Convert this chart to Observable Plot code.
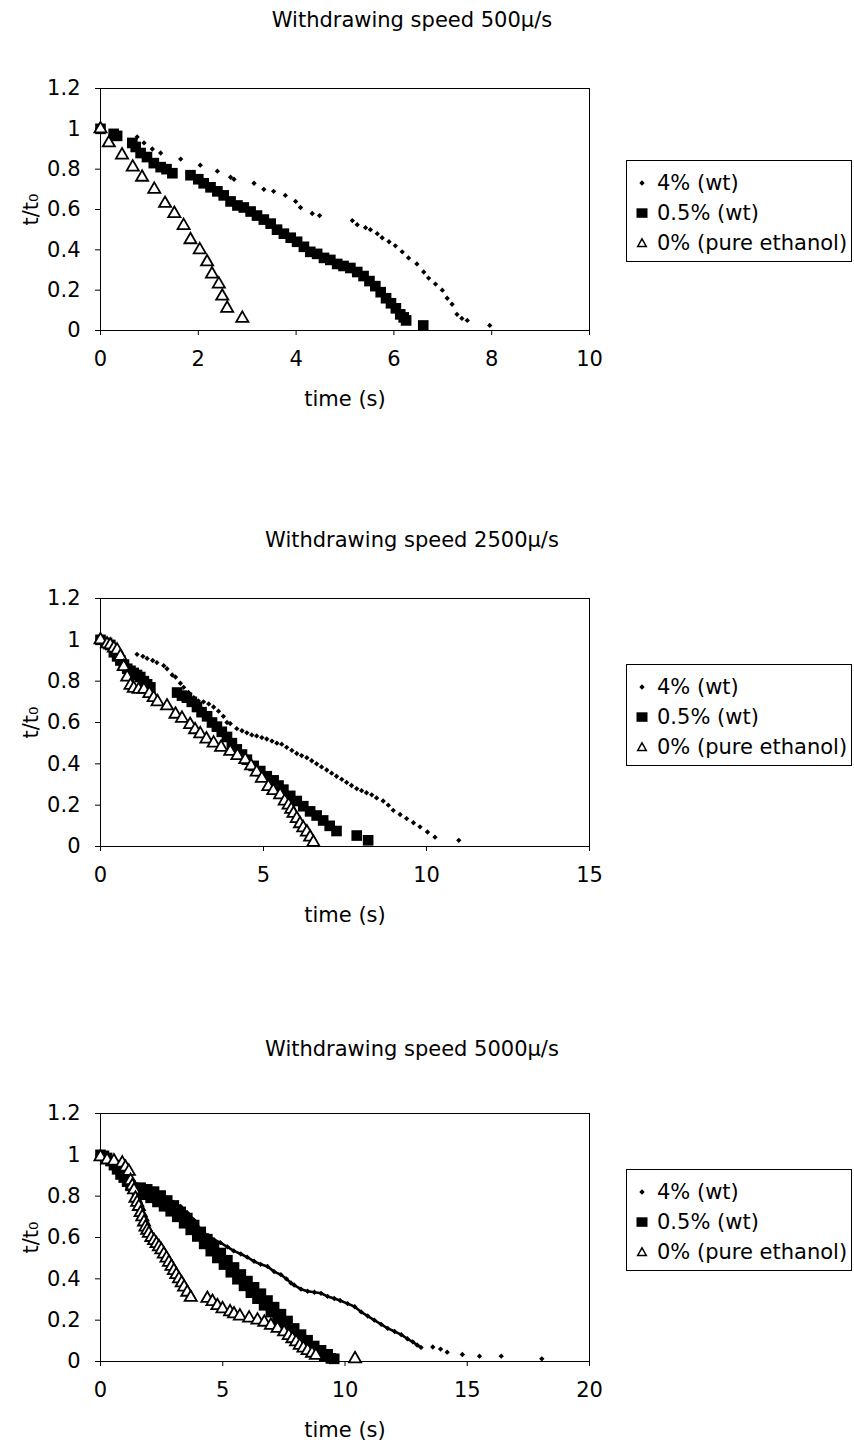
<!DOCTYPE html>
<html><head><meta charset="utf-8">
<script src="https://cdn.jsdelivr.net/npm/d3@7"></script>
<script src="https://cdn.jsdelivr.net/npm/@observablehq/plot@0.6"></script>
<style>
body{margin:0;background:#fff;}
#page{position:relative;width:854px;height:1451px;font-family:"DejaVu Sans",sans-serif;color:#000;background:#fff;}
.title{position:absolute;left:0;width:824px;text-align:center;font-size:21px;line-height:24px;white-space:nowrap;}
.chart{position:absolute;left:0;}
.legend{position:absolute;left:626px;width:226px;border:1px solid #000;box-sizing:border-box;font-size:21px;padding:7px 0 3px 0;background:#fff;}
.legend .row{height:30px;display:flex;align-items:center;white-space:nowrap;}
.legend svg{width:30px;height:30px;flex:none;}
</style></head><body><div id="page"></div>
<script>
// ---------- data ----------
const titles = ["Withdrawing speed 500µ/s", "Withdrawing speed 2500µ/s", "Withdrawing speed 5000µ/s"];
const seriesNames = ["4% (wt)", "0.5% (wt)", "0% (pure ethanol)"];
const yTicks = [0, 0.2, 0.4, 0.6, 0.8, 1, 1.2];
const c1_xTicks = [0, 2, 4, 6, 8, 10];
const c2_xTicks = [0, 5, 10, 15];
const c3_xTicks = [0, 5, 10, 15, 20];

// chart 1 : 500 µ/s
const c1_x4 = [0,0.75,0.89,1.06,1.23,1.64,2.04,2.39,2.66,2.73,3.14,3.34,3.54,3.78,3.99,4.09,4.33,4.48,5.15,5.25,5.42,5.52,5.66,5.76,5.90,6.03,6.17,6.30,6.47,6.61,6.71,6.85,6.99,7.09,7.19,7.29,7.39,7.50,7.96];
const c1_y4 = [1.0,0.96,0.93,0.90,0.88,0.85,0.82,0.79,0.76,0.75,0.73,0.70,0.69,0.67,0.64,0.61,0.58,0.57,0.545,0.525,0.51,0.50,0.48,0.46,0.44,0.42,0.39,0.36,0.33,0.29,0.26,0.23,0.20,0.16,0.13,0.08,0.06,0.05,0.025];
const c1_x05 = [0,0.27,0.34,0.65,0.72,0.82,0.95,1.09,1.23,1.35,1.47,1.84,2.0,2.11,2.25,2.39,2.52,2.66,2.80,2.93,3.07,3.20,3.34,3.48,3.61,3.75,3.89,4.02,4.16,4.29,4.43,4.57,4.70,4.84,4.97,5.11,5.25,5.38,5.50,5.62,5.73,5.84,5.94,6.04,6.13,6.20,6.25,6.60];
const c1_y05 = [1.0,0.975,0.965,0.93,0.91,0.88,0.86,0.83,0.81,0.80,0.78,0.77,0.75,0.73,0.71,0.69,0.67,0.64,0.62,0.61,0.59,0.57,0.55,0.53,0.50,0.48,0.46,0.44,0.415,0.39,0.38,0.36,0.35,0.33,0.32,0.31,0.29,0.27,0.245,0.22,0.19,0.16,0.135,0.11,0.08,0.065,0.05,0.025];
const c1_x0 = [0,0.17,0.44,0.66,0.85,1.10,1.32,1.51,1.70,1.84,2.03,2.18,2.28,2.42,2.49,2.59,2.90];
const c1_y0 = [1.0,0.93,0.87,0.81,0.76,0.70,0.63,0.58,0.52,0.45,0.40,0.34,0.28,0.23,0.17,0.11,0.06];

// chart 2 : 2500 µ/s
const c2_x4 = [0,1.12,1.30,1.43,1.60,1.73,1.94,2.04,2.20,2.30,2.45,2.55,2.70,2.86,3.00,3.16,3.32,3.47,3.62,3.77,3.88,3.98,4.18,4.34,4.49,4.64,4.79,4.95,5.10,5.26,5.41,5.56,5.71,5.87,6.02,6.17,6.33,6.48,6.63,6.78,6.94,7.09,7.24,7.40,7.55,7.70,7.86,8.01,8.16,8.32,8.47,8.67,8.83,8.98,9.19,9.39,9.60,9.80,10.03,10.26,10.99];
const c2_y4 = [1.0,0.93,0.92,0.91,0.90,0.89,0.875,0.86,0.83,0.82,0.79,0.77,0.745,0.72,0.705,0.70,0.69,0.675,0.655,0.63,0.60,0.595,0.57,0.56,0.55,0.54,0.535,0.527,0.52,0.51,0.50,0.495,0.48,0.465,0.45,0.44,0.43,0.415,0.40,0.385,0.37,0.355,0.34,0.325,0.31,0.295,0.28,0.27,0.26,0.25,0.235,0.22,0.20,0.175,0.155,0.135,0.115,0.095,0.07,0.045,0.03];
const c2_x05 = [0,0.20,0.30,0.41,0.51,0.61,0.72,0.82,0.92,1.02,1.12,1.22,1.33,1.43,1.53,2.35,2.50,2.65,2.80,2.96,3.10,3.27,3.42,3.57,3.72,3.88,4.03,4.18,4.34,4.49,4.70,4.90,5.10,5.31,5.46,5.61,5.82,6.02,6.22,6.43,6.63,6.83,7.03,7.24,7.86,8.21];
const c2_y05 = [1.0,0.985,0.975,0.94,0.92,0.90,0.88,0.86,0.85,0.84,0.83,0.82,0.80,0.785,0.77,0.745,0.73,0.72,0.70,0.675,0.65,0.63,0.60,0.58,0.555,0.53,0.50,0.47,0.445,0.42,0.39,0.365,0.34,0.32,0.295,0.275,0.245,0.22,0.195,0.17,0.15,0.126,0.10,0.075,0.053,0.03];
const c2_x0 = [0,0.20,0.30,0.41,0.51,0.61,0.71,0.82,0.92,1.02,1.17,1.33,1.50,1.63,1.75,2.04,2.30,2.50,2.75,2.90,3.06,3.25,3.47,3.70,3.98,4.20,4.44,4.62,4.79,4.95,5.15,5.30,5.51,5.65,5.77,5.85,5.92,6.02,6.12,6.22,6.33,6.43,6.53];
const c2_y0 = [1.0,0.98,0.975,0.96,0.95,0.92,0.87,0.82,0.78,0.765,0.76,0.76,0.74,0.72,0.70,0.68,0.64,0.62,0.59,0.565,0.545,0.52,0.50,0.48,0.46,0.44,0.42,0.39,0.36,0.33,0.29,0.27,0.25,0.22,0.20,0.18,0.16,0.135,0.11,0.09,0.07,0.045,0.02];

// chart 3 : 5000 µ/s
const c3_x4 = [0,0.20,0.50,0.80,1.10,1.37,1.64,1.90,2.19,2.46,2.73,3.00,3.28,3.55,3.82,4.00,4.10,4.24,4.40,4.64,4.90,5.19,5.45,5.74,6.00,6.28,6.55,6.83,7.10,7.38,7.60,7.79,7.92,8.20,8.47,8.75,9.02,9.29,9.56,9.80,10.11,10.40,10.66,10.93,11.20,11.48,11.75,12.03,12.30,12.55,12.77,12.95,13.11,13.59,13.91,14.18,14.80,15.50,16.39,18.05];
const c3_y4 = [1.0,0.985,0.97,0.93,0.88,0.85,0.835,0.83,0.82,0.805,0.79,0.77,0.75,0.72,0.685,0.65,0.625,0.62,0.61,0.59,0.575,0.555,0.535,0.52,0.505,0.485,0.47,0.46,0.435,0.42,0.40,0.38,0.37,0.35,0.34,0.335,0.33,0.315,0.305,0.295,0.28,0.265,0.24,0.22,0.20,0.18,0.16,0.145,0.13,0.11,0.095,0.08,0.068,0.07,0.06,0.045,0.034,0.026,0.026,0.013];
const c3_denseEnd = 13.11;
const c3_x05 = [0,0.14,0.27,0.41,0.55,0.68,0.82,0.95,1.09,1.23,1.37,1.50,1.64,1.78,1.91,2.05,2.19,2.33,2.46,2.60,2.73,2.87,3.00,3.14,3.28,3.42,3.55,3.69,3.83,3.96,4.10,4.24,4.37,4.51,4.64,4.78,4.92,5.05,5.19,5.33,5.46,5.60,5.74,5.87,6.01,6.15,6.28,6.42,6.56,6.69,6.83,6.97,7.10,7.24,7.38,7.51,7.65,7.79,7.92,8.06,8.20,8.33,8.47,8.61,8.74,8.88,9.02,9.15,9.29,9.42,9.56];
const c3_y05 = [1.0,0.995,0.985,0.97,0.95,0.93,0.905,0.89,0.87,0.85,0.84,0.815,0.841,0.807,0.833,0.792,0.822,0.772,0.803,0.751,0.779,0.727,0.755,0.700,0.724,0.669,0.694,0.637,0.660,0.605,0.627,0.569,0.592,0.534,0.558,0.501,0.525,0.469,0.490,0.432,0.455,0.398,0.421,0.366,0.389,0.333,0.359,0.304,0.328,0.272,0.295,0.239,0.263,0.206,0.229,0.174,0.196,0.137,0.160,0.104,0.130,0.077,0.103,0.055,0.075,0.040,0.054,0.028,0.035,0.015,0.013];
const c3_x0 = [0,0.27,0.55,0.89,1.02,1.16,1.23,1.30,1.37,1.43,1.50,1.57,1.64,1.71,1.78,1.84,1.91,1.98,2.08,2.19,2.29,2.39,2.49,2.59,2.70,2.80,2.90,3.00,3.10,3.21,3.32,3.42,3.55,3.69,4.37,4.58,4.78,4.99,5.30,5.46,5.70,6.08,6.42,6.70,6.97,7.24,7.51,7.70,7.85,8.00,8.15,8.30,8.47,8.65,8.81,10.41];
const c3_y0 = [0.99,0.975,0.97,0.96,0.94,0.92,0.875,0.85,0.83,0.79,0.77,0.75,0.72,0.70,0.675,0.65,0.635,0.62,0.60,0.585,0.57,0.555,0.54,0.52,0.50,0.48,0.46,0.44,0.42,0.40,0.38,0.36,0.335,0.31,0.305,0.29,0.27,0.255,0.24,0.23,0.22,0.21,0.20,0.19,0.175,0.16,0.143,0.125,0.11,0.095,0.078,0.065,0.053,0.04,0.03,0.013];

// ---------- layout ----------
const charts = [
  {title: titles[0], titleTop: 8, top: 70, plotH: 242, xMax: 10, xTicks: c1_xTicks, legendTop: 160,
   x4: c1_x4, y4: c1_y4, x05: c1_x05, y05: c1_y05, x0: c1_x0, y0: c1_y0},
  {title: titles[1], titleTop: 528, top: 580, plotH: 248, xMax: 15, xTicks: c2_xTicks, legendTop: 664,
   x4: c2_x4, y4: c2_y4, x05: c2_x05, y05: c2_y05, x0: c2_x0, y0: c2_y0},
  {title: titles[2], titleTop: 1037, top: 1095, plotH: 248, xMax: 20, xTicks: c3_xTicks, legendTop: 1169,
   x4: c3_x4, y4: c3_y4, x05: c3_x05, y05: c3_y05, x0: c3_x0, y0: c3_y0, dense: c3_denseEnd}
];

const page = document.getElementById("page");
const rows = (xs, ys) => xs.map((x, i) => ({x, y: ys[i]}));
const MT = 18, MB = 90;

const legendSymbols = [
  '<svg viewBox="0 0 30 30"><path d="M15,12.3L17.7,15L15,17.7L12.3,15Z" fill="#000"/></svg>',
  '<svg viewBox="0 0 30 30"><rect x="9.5" y="10.3" width="11" height="9.5" fill="#000"/></svg>',
  '<svg viewBox="0 0 30 30"><path d="M15,10.8L19.3,18.4L10.7,18.4Z" fill="#fff" stroke="#000" stroke-width="1.5"/></svg>'
];

for (const c of charts) {
  const t = document.createElement("div");
  t.className = "title";
  t.style.top = c.titleTop + "px";
  t.textContent = c.title;
  page.appendChild(t);

  const d4 = rows(c.x4, c.y4), d05 = rows(c.x05, c.y05), d0 = rows(c.x0, c.y0);
  const marks = [
    Plot.frame({stroke: "#000", strokeWidth: 1}),
    Plot.axisY({ticks: yTicks, tickFormat: d => String(d), tickSize: 5, tickPadding: 15,
      label: "t/t₀", labelAnchor: "center", labelOffset: 77, labelArrow: "none"}),
    Plot.axisX({ticks: c.xTicks, tickFormat: d => String(d), tickSize: 5, tickPadding: 16,
      label: "time (s)", labelAnchor: "center", labelOffset: 75, labelArrow: "none"})
  ];
  if (c.dense !== undefined) {
    marks.push(Plot.line(d4.filter(d => d.x <= c.dense), {x: "x", y: "y", stroke: "#000", strokeWidth: 2.6}));
  }
  marks.push(
    Plot.dot(d4, {x: "x", y: "y", symbol: "diamond2", r: 2.4, fill: "#000", stroke: "none"}),
    Plot.dot(d05, {x: "x", y: "y", symbol: "square", r: 6, fill: "#000", stroke: "none"}),
    Plot.dot(d0, {x: "x", y: "y", symbol: "triangle", r: 4.5, fill: "#fff", stroke: "#000", strokeWidth: 1.8})
  );
  const svg = Plot.plot({
    width: 600, height: c.plotH + MT + MB,
    marginLeft: 100, marginRight: 11, marginTop: MT, marginBottom: MB,
    x: {domain: [0, c.xMax]},
    y: {domain: [0, 1.2]},
    style: {fontFamily: "DejaVu Sans", fontSize: "21px", color: "#000", background: "#fff", overflow: "visible"},
    marks
  });
  const holder = document.createElement("div");
  holder.className = "chart";
  holder.style.top = c.top + "px";
  holder.appendChild(svg);
  page.appendChild(holder);

  const lg = document.createElement("div");
  lg.className = "legend";
  lg.style.top = c.legendTop + "px";
  seriesNames.forEach((name, i) => {
    const r = document.createElement("div");
    r.className = "row";
    r.innerHTML = legendSymbols[i];
    const s = document.createElement("span");
    s.textContent = name;
    r.appendChild(s);
    lg.appendChild(r);
  });
  page.appendChild(lg);
}
</script>
</body></html>
